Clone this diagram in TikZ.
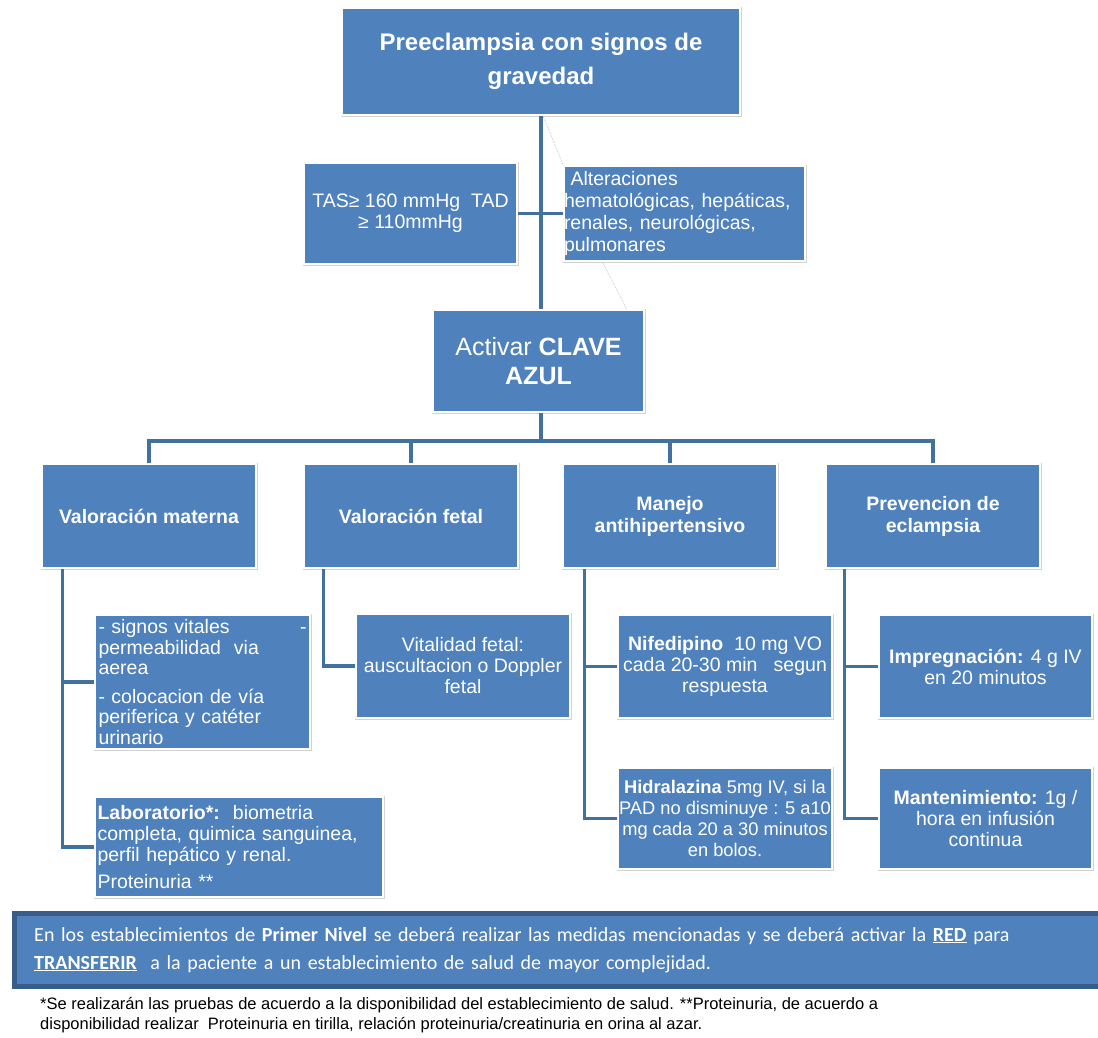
\documentclass[tikz,border=0pt]{standalone}
\usepackage{fontspec}
\setmainfont{Liberation Sans}
\newfontfamily\bannerfont{Carlito}
\usepackage{xcolor}
\usetikzlibrary{positioning}

\definecolor{boxblue}{HTML}{4F81BD}
\definecolor{linkblue}{HTML}{41719C}
\definecolor{bannerdark}{HTML}{385D8A}
\definecolor{framegray}{HTML}{D3D3D3}

\begin{document}
\begin{tikzpicture}[
  x=1pt, y=-1pt,
  every node/.style={text=white, inner sep=0pt},
  blk/.style={fill=boxblue, draw=white, line width=1.5pt,
              preaction={draw=framegray, line width=3pt}, align=center},
  titlebox/.style={blk, minimum width=398pt, minimum height=107pt,
                   font=\fontsize{24}{34}\selectfont\bfseries},
  headbox/.style={blk, minimum width=214pt, minimum height=104pt,
                  font=\fontsize{19.5}{22}\selectfont\bfseries},
  itembox/.style={blk, minimum width=214pt, minimum height=103pt,
                  font=\fontsize{19.5}{21}\selectfont},
  bannerbox/.style={fill=boxblue, draw=bannerdark, line width=4.5pt,
                    minimum width=1090pt, minimum height=73pt,
                    text width=1050pt, inner xsep=19pt, align=left,
                    font=\bannerfont\fontsize{20}{28}\selectfont},
  notebox/.style={text=black, align=left, font=\fontsize{16.5}{20}\selectfont},
  link/.style={draw=linkblue, line width=3.5pt},
  faint/.style={draw=black!30, densely dotted, line width=0.6pt},
]
\useasboundingbox (0,0) rectangle (1098,1037);

% Top: diagnosis
\node[titlebox] (top) at (541,61.5) {Preeclampsia con signos de\\gravedad};

% Criteria
\node[itembox, minimum width=213pt, minimum height=101pt] (tas) at (410.5,213.5)
  {TAS≥ 160 mmHg\ \ TAD\\≥ 110mmHg};
\node[itembox, minimum width=241pt, minimum height=95pt, text width=241pt,
      align=left, font=\fontsize{19.5}{22.3}\selectfont] (alt) at (684.5,213.5)
  {\ Alteraciones\\hematológicas, hepáticas,\\renales, neurológicas,\\pulmonares};

% Activation
\node[blk, minimum width=211pt, minimum height=102pt,
      font=\fontsize{25}{29}\selectfont] (act) at (538.5,361)
  {Activar \textbf{CLAVE}\\\textbf{AZUL}};

% Four branches
\node[headbox] (h1) at (149,516) {Valoración materna};
\node[headbox] (h2) at (411,516) {Valoración fetal};
\node[headbox] (h3) at (670,516) {Manejo\\antihipertensivo};
\node[headbox] (h4) at (933,516) {Prevencion de\\eclampsia};

% Branch 1 items
\node[itembox, minimum width=215pt, minimum height=134pt, text width=208pt,
      align=left, font=\fontsize{19.5}{20.5}\selectfont] (sv) at (202.5,682)
  {- signos vitales\hfill-\\permeabilidad\ \ via\\aerea\\[8pt]- colocacion de vía\\periferica y catéter\\urinario};
\node[itembox, minimum width=288pt, minimum height=100pt, text width=283pt,
      align=left] (lab) at (239,847)
  {\textbf{Laboratorio*:}\ \ biometria\\completa, quimica sanguinea,\\perfil hepático y renal.\\[6pt]Proteinuria **};

% Branch 2 item
\node[itembox, minimum height=104pt] (vf) at (463,666)
  {Vitalidad fetal:\\auscultacion o Doppler\\fetal};

% Branch 3 items
\node[itembox] (nif) at (725,666.5)
  {\textbf{Nifedipino}\ \ 10 mg VO\\cada 20-30 min\ \ \ segun\\respuesta};
\node[itembox, minimum height=101pt, font=\fontsize{18.3}{21}\selectfont] (hid) at (725,818.5)
  {\textbf{Hidralazina} 5mg IV, si la\\PAD no disminuye : 5 a10\\mg cada 20 a 30 minutos\\en bolos.};

% Branch 4 items
\node[itembox, minimum width=213pt] (imp) at (985.5,666.5)
  {\textbf{Impregnación:} 4 g IV\\en 20 minutos};
\node[itembox, minimum width=213pt, minimum height=101pt] (man) at (985.5,818.5)
  {\textbf{Mantenimiento:} 1g /\\hora en infusión\\continua};

% Banner and footnote
\node[bannerbox, anchor=north west] (banner) at (12,911)
  {En los establecimientos de \textbf{Primer Nivel} se deberá realizar las medidas mencionadas y se deberá activar la \underline{\textbf{RED}} para\\\underline{\textbf{TRANSFERIR}}\ \ a la paciente a un establecimiento de salud de mayor complejidad.};
\node[notebox, anchor=west] (note) at (40,1015)
  {*Se realizarán las pruebas de acuerdo a la disponibilidad del establecimiento de salud. **Proteinuria, de acuerdo a\\disponibilidad realizar\ \ Proteinuria en tirilla, relación proteinuria/creatinuria en orina al azar.};

% Connectors: trunk and criteria
\draw[link] (top.south) -- (top.south |- act.north);
\draw[link, line width=3pt] (tas.east) -- (alt.west);
\draw[faint] ([xshift=2pt]top.south) -- (alt.north west);
\draw[faint] ([xshift=39pt]alt.south west) -- ([xshift=-18pt]act.north east);

% Connectors: bus to branches
\coordinate (bus) at (541,441);
\draw[link] (act.south -| bus) -- (bus);
\draw[link] (h1.north) |- (bus) -| (h4.north);
\draw[link] (h2.north) -- (h2.north |- bus);
\draw[link] (h3.north) -- (h3.north |- bus);

% Connectors: branch drops
\draw[link] ([xshift=21pt]h1.south west) |- (sv.west);
\draw[link] ([xshift=21pt]h1.south west) |- (lab.west);
\draw[link] ([xshift=20pt]h2.south west) |- (vf.west);
\draw[link] ([xshift=22pt]h3.south west) |- (nif.west);
\draw[link] ([xshift=22pt]h3.south west) |- (hid.west);
\draw[link] ([xshift=19pt]h4.south west) |- (imp.west);
\draw[link] ([xshift=19pt]h4.south west) |- (man.west);

\end{tikzpicture}
\end{document}
